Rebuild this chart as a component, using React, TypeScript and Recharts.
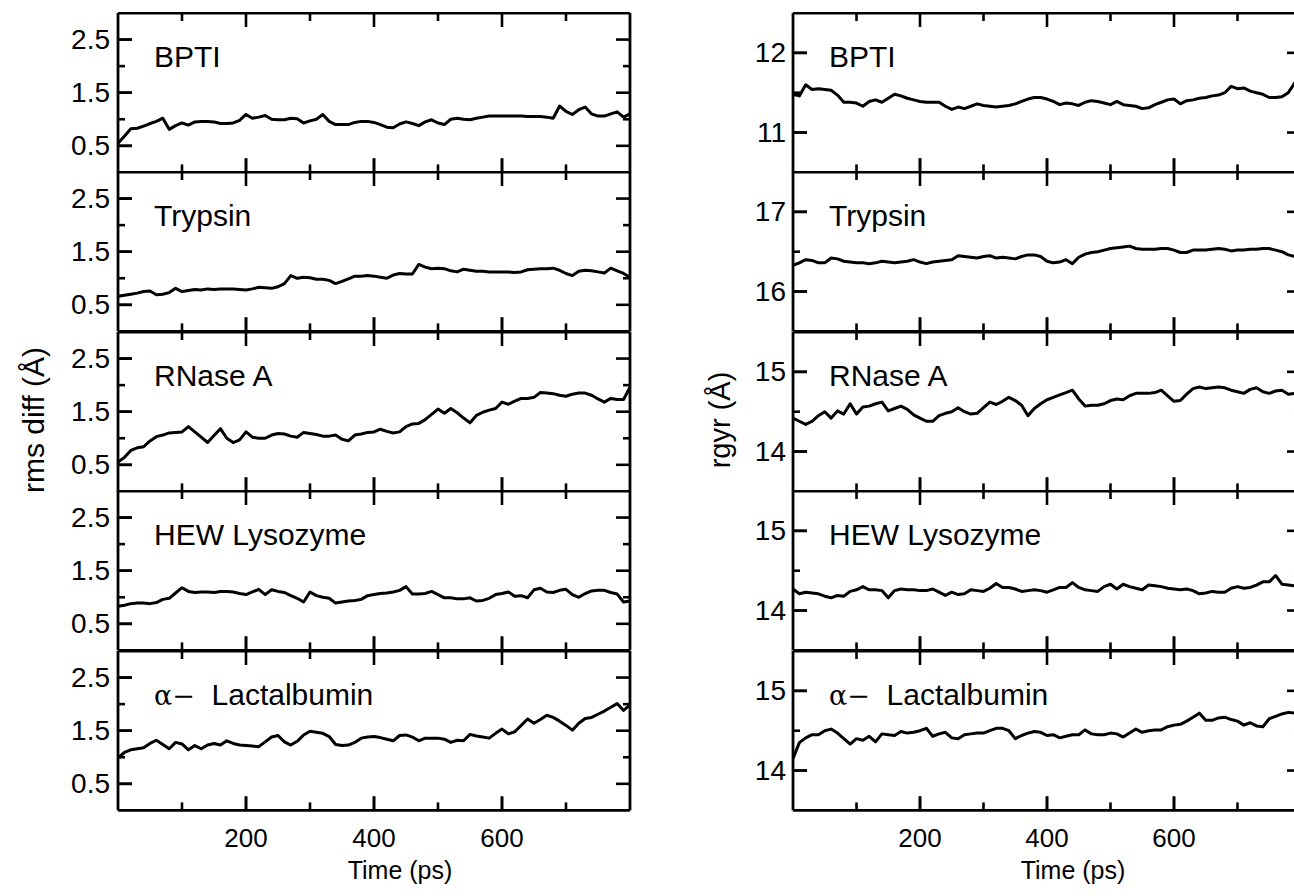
import { Line, LineChart, ReferenceLine, XAxis, YAxis } from 'recharts'

const FONT = '"Liberation Sans", Arial, Helvetica, sans-serif'
const INK = '#000'

// time axis (ps), one sample every 10 ps
const time = [
  0, 10, 20, 30, 40, 50, 60, 70, 80, 90, 100, 110, 120, 130, 140, 150, 160, 170, 180, 190,
  200, 210, 220, 230, 240, 250, 260, 270, 280, 290, 300, 310, 320, 330, 340, 350, 360, 370, 380, 390,
  400, 410, 420, 430, 440, 450, 460, 470, 480, 490, 500, 510, 520, 530, 540, 550, 560, 570, 580, 590,
  600, 610, 620, 630, 640, 650, 660, 670, 680, 690, 700, 710, 720, 730, 740, 750, 760, 770, 780, 790,
  800,
]

// rms diff (Å)
const rmsBpti = [
  0.55, 0.68, 0.82, 0.83, 0.87, 0.92, 0.96, 1.02, 0.81, 0.88, 0.93, 0.89, 0.95, 0.96, 0.96, 0.95, 0.92, 0.92, 0.93, 0.98,
  1.09, 1.02, 1.04, 1.07, 1.0, 0.99, 0.99, 1.02, 1.01, 0.93, 0.97, 1.0, 1.09, 0.96, 0.9, 0.9, 0.9, 0.94, 0.96, 0.96,
  0.94, 0.9, 0.85, 0.84, 0.91, 0.95, 0.92, 0.88, 0.95, 0.99, 0.93, 0.9, 1.0, 1.02, 1.0, 0.99, 1.02, 1.04, 1.06, 1.06,
  1.06, 1.06, 1.06, 1.06, 1.05, 1.05, 1.05, 1.04, 1.02, 1.25, 1.15, 1.09, 1.18, 1.23, 1.1, 1.06, 1.06, 1.1, 1.14, 1.04,
  1.1,
]
const rmsTrypsin = [
  0.66, 0.68, 0.7, 0.72, 0.75, 0.76, 0.69, 0.7, 0.73, 0.81, 0.75, 0.77, 0.79, 0.78, 0.8, 0.79, 0.8, 0.8, 0.8, 0.79,
  0.78, 0.8, 0.83, 0.82, 0.81, 0.84, 0.9, 1.05, 1.0, 1.02, 1.01, 0.98, 0.98, 0.96, 0.9, 0.94, 0.99, 1.04, 1.04, 1.05,
  1.04, 1.02, 1.0, 1.06, 1.09, 1.08, 1.08, 1.26, 1.21, 1.18, 1.19, 1.18, 1.14, 1.12, 1.17, 1.15, 1.13, 1.13, 1.12, 1.12,
  1.12, 1.12, 1.11, 1.12, 1.16, 1.17, 1.18, 1.18, 1.19, 1.15, 1.09, 1.05, 1.13, 1.15, 1.14, 1.12, 1.1, 1.19, 1.14, 1.09,
  1.02,
]
const rmsRnase = [
  0.55, 0.64, 0.77, 0.82, 0.84, 0.95, 1.03, 1.06, 1.1, 1.11, 1.12, 1.22, 1.12, 1.02, 0.92, 1.05, 1.18, 1.0, 0.92, 0.97,
  1.12, 1.02, 1.0, 1.0, 1.06, 1.09, 1.08, 1.04, 1.02, 1.11, 1.09, 1.07, 1.04, 1.04, 1.06, 0.98, 0.95, 1.06, 1.08, 1.11,
  1.12, 1.17, 1.13, 1.1, 1.12, 1.22, 1.27, 1.28, 1.35, 1.45, 1.55, 1.47, 1.56, 1.48, 1.38, 1.29, 1.43, 1.49, 1.53, 1.56,
  1.68, 1.64, 1.7, 1.75, 1.75, 1.77, 1.86, 1.85, 1.84, 1.81, 1.79, 1.83, 1.85, 1.85, 1.81, 1.74, 1.68, 1.75, 1.73, 1.73,
  1.96,
]
const rmsLysozyme = [
  0.83, 0.85, 0.88, 0.89, 0.89, 0.88, 0.9, 0.96, 0.98, 1.08, 1.18, 1.11, 1.09, 1.1, 1.1, 1.09, 1.11, 1.11, 1.1, 1.07,
  1.05, 1.1, 1.15, 1.05, 1.14, 1.11, 1.09, 1.03, 0.98, 0.91, 1.1, 1.03, 1.0, 0.98, 0.89, 0.91, 0.93, 0.94, 0.96, 1.03,
  1.05, 1.07, 1.08, 1.1, 1.13, 1.2, 1.06, 1.06, 1.07, 1.11, 1.05, 0.99, 0.99, 0.97, 0.97, 0.99, 0.93, 0.94, 0.98, 1.05,
  1.07, 1.1, 1.02, 1.03, 0.99, 1.14, 1.17, 1.1, 1.09, 1.13, 1.15, 1.05, 1.0, 1.07, 1.12, 1.13, 1.13, 1.09, 1.06, 0.91,
  0.93,
]
const rmsLactalbumin = [
  0.99, 1.09, 1.14, 1.16, 1.18, 1.26, 1.32, 1.24, 1.16, 1.28, 1.25, 1.14, 1.22, 1.16, 1.23, 1.26, 1.23, 1.31, 1.26, 1.23,
  1.22, 1.21, 1.2, 1.29, 1.38, 1.41, 1.29, 1.23, 1.3, 1.42, 1.49, 1.47, 1.45, 1.39, 1.24, 1.22, 1.23, 1.28, 1.36, 1.38,
  1.39, 1.37, 1.34, 1.31, 1.41, 1.42, 1.38, 1.31, 1.36, 1.36, 1.36, 1.34, 1.28, 1.32, 1.31, 1.43, 1.4, 1.38, 1.36, 1.45,
  1.53, 1.44, 1.48, 1.6, 1.72, 1.64, 1.71, 1.79, 1.75, 1.68, 1.6, 1.51, 1.64, 1.73, 1.75, 1.81, 1.87, 1.94, 2.01, 1.88,
  1.99,
]

// radius of gyration (Å)
const rgyrBpti = [
  11.48, 11.46, 11.6, 11.54, 11.55, 11.54, 11.53, 11.47, 11.38, 11.38, 11.37, 11.33, 11.39, 11.41, 11.38, 11.43, 11.48, 11.46, 11.43, 11.41,
  11.39, 11.38, 11.38, 11.38, 11.33, 11.29, 11.32, 11.3, 11.33, 11.36, 11.34, 11.33, 11.32, 11.33, 11.34, 11.36, 11.39, 11.42, 11.44, 11.44,
  11.42, 11.39, 11.35, 11.37, 11.36, 11.34, 11.38, 11.4, 11.39, 11.37, 11.35, 11.39, 11.35, 11.34, 11.33, 11.3, 11.31, 11.35, 11.38, 11.41,
  11.42, 11.36, 11.4, 11.41, 11.43, 11.44, 11.46, 11.47, 11.5, 11.58, 11.55, 11.56, 11.52, 11.5, 11.48, 11.44, 11.44, 11.45, 11.5, 11.62,
  11.66,
]
const rgyrTrypsin = [
  16.33, 16.36, 16.4, 16.39, 16.36, 16.36, 16.42, 16.41, 16.38, 16.37, 16.36, 16.36, 16.35, 16.36, 16.38, 16.37, 16.36, 16.37, 16.38, 16.4,
  16.37, 16.35, 16.37, 16.38, 16.39, 16.4, 16.45, 16.44, 16.43, 16.42, 16.44, 16.45, 16.42, 16.43, 16.42, 16.41, 16.44, 16.46, 16.46, 16.44,
  16.38, 16.36, 16.37, 16.4, 16.35, 16.43, 16.47, 16.49, 16.5, 16.52, 16.54, 16.55, 16.56, 16.57, 16.54, 16.53, 16.53, 16.53, 16.54, 16.54,
  16.52, 16.49, 16.49, 16.52, 16.52, 16.52, 16.53, 16.54, 16.53, 16.51, 16.52, 16.52, 16.53, 16.53, 16.54, 16.54, 16.52, 16.5, 16.46, 16.44,
  16.45,
]
const rgyrRnase = [
  14.42, 14.38, 14.34, 14.38, 14.45, 14.5, 14.42, 14.51, 14.47, 14.6, 14.47, 14.56, 14.57, 14.6, 14.62, 14.51, 14.54, 14.57, 14.53, 14.46,
  14.42, 14.38, 14.38, 14.45, 14.48, 14.5, 14.55, 14.5, 14.47, 14.48, 14.55, 14.62, 14.59, 14.63, 14.68, 14.64, 14.58, 14.45, 14.54, 14.6,
  14.65, 14.68, 14.71, 14.74, 14.77, 14.66, 14.57, 14.58, 14.58, 14.6, 14.64, 14.66, 14.65, 14.7, 14.73, 14.73, 14.73, 14.74, 14.77, 14.7,
  14.63, 14.64, 14.72, 14.79, 14.81, 14.79, 14.8, 14.81, 14.8, 14.77, 14.75, 14.73, 14.78, 14.8, 14.75, 14.73, 14.76, 14.77, 14.72, 14.73,
  14.74,
]
const rgyrLysozyme = [
  14.27, 14.21, 14.23, 14.22, 14.21, 14.18, 14.16, 14.19, 14.18, 14.24, 14.26, 14.3, 14.26, 14.26, 14.25, 14.16, 14.25, 14.27, 14.26, 14.26,
  14.25, 14.25, 14.27, 14.23, 14.19, 14.23, 14.2, 14.21, 14.26, 14.25, 14.24, 14.28, 14.34, 14.29, 14.29, 14.27, 14.24, 14.25, 14.26, 14.25,
  14.23, 14.26, 14.29, 14.29, 14.35, 14.29, 14.26, 14.25, 14.24, 14.3, 14.33, 14.27, 14.33, 14.3, 14.28, 14.26, 14.32, 14.31, 14.3, 14.28,
  14.27, 14.26, 14.27, 14.25, 14.21, 14.22, 14.24, 14.23, 14.23, 14.28, 14.3, 14.28, 14.29, 14.32, 14.36, 14.36, 14.44, 14.33, 14.32, 14.31,
  14.3,
]
const rgyrLactalbumin = [
  14.15, 14.35, 14.41, 14.45, 14.45, 14.5, 14.52, 14.47, 14.4, 14.33, 14.4, 14.38, 14.43, 14.36, 14.46, 14.45, 14.44, 14.49, 14.47, 14.48,
  14.5, 14.53, 14.43, 14.46, 14.48, 14.41, 14.4, 14.45, 14.46, 14.47, 14.47, 14.5, 14.53, 14.53, 14.5, 14.4, 14.44, 14.47, 14.49, 14.48,
  14.44, 14.45, 14.41, 14.43, 14.45, 14.45, 14.51, 14.46, 14.45, 14.45, 14.47, 14.46, 14.42, 14.47, 14.52, 14.48, 14.5, 14.51, 14.51, 14.55,
  14.57, 14.58, 14.62, 14.67, 14.72, 14.63, 14.63, 14.66, 14.67, 14.64, 14.62, 14.57, 14.6, 14.56, 14.55, 14.65, 14.68, 14.71, 14.73, 14.72,
  14.74,
]

const proteinNames = ['BPTI', 'Trypsin', 'RNase A', 'HEW Lysozyme', 'α−  Lactalbumin']

const timeDomain: [number, number] = [0, 800]
const timeMajorTicks = [200, 400, 600]
const timeMinorTicks = [100, 300, 500, 700]

const rmsDomain: [number, number] = [0, 3]
const rmsMajorTicks = [0.5, 1.5, 2.5]
const rmsMinorTicks = [1, 2]

const rgyrDomains: [number, number][] = [
  [10.5, 12.5],
  [15.5, 17.5],
  [13.5, 15.5],
  [13.5, 15.5],
  [13.5, 15.5],
]
const rgyrMajorTicks = [
  [11, 12],
  [16, 17],
  [14, 15],
  [14, 15],
  [14, 15],
]
const rgyrMinorTicks = [[11.5], [16.5], [14.5], [14.5], [14.5]]

const rmsSeries = [rmsBpti, rmsTrypsin, rmsRnase, rmsLysozyme, rmsLactalbumin]
const rgyrSeries = [rgyrBpti, rgyrTrypsin, rgyrRnase, rgyrLysozyme, rgyrLactalbumin]

const TOP = 13
const PANEL_H = 159.4
const GUT_L = 70
const GUT_R = 10
const TIME_H = 60
const LINE_W = 3
const FRAME_W = 2.8
const TICK_W = 2.6
const MAJOR_LEN = 14
const MINOR_Y_LEN = 7
const MINOR_X_LEN = 8

type PanelProps = {
  values: number[]
  domain: [number, number]
  majorTicks: number[]
  minorTicks: number[]
  name: string
  plotX: number
  plotW: number
  top: number
  labelGap: number
  showTime: boolean
}

function PanelName({ name }: { name: string }) {
  if (name.startsWith('α')) {
    return (
      <>
        <span style={{ fontFamily: '"DejaVu Serif", "Liberation Serif", serif', fontSize: 27 }}>{name.slice(0, 2)}</span>
        {name.slice(2)}
      </>
    )
  }
  return <>{name}</>
}

function Panel(p: PanelProps) {
  const data = time.map((t, i) => ({ t, v: p.values[i] }))
  const bottomH = p.showTime ? TIME_H : 1
  const plotLeft = GUT_L
  const plotBottom = 1 + PANEL_H
  const [yMin, yMax] = p.domain
  const [tMin, tMax] = timeDomain
  // tick lengths in data units, drawn through the chart scales
  const dxOf = (px: number) => (px * (tMax - tMin)) / p.plotW
  const dyOf = (px: number) => (px * (yMax - yMin)) / PANEL_H

  const yLabel = (props: any) => {
    const { payload } = props
    const y = payload.coordinate ?? props.y
    return (
      <text x={plotLeft - p.labelGap} y={y} textAnchor="end" dominantBaseline="central" fontFamily={FONT} fontSize={28} fill={INK}>
        {String(payload.value)}
      </text>
    )
  }

  const xLabel = (props: any) => {
    const { payload } = props
    const x = payload.coordinate ?? props.x
    if (!p.showTime) return <g />
    return (
      <text x={x} y={plotBottom + 28} textAnchor="middle" dominantBaseline="central" fontFamily={FONT} fontSize={26} fill={INK}>
        {String(payload.value)}
      </text>
    )
  }

  const axisLine = { stroke: INK, strokeWidth: FRAME_W }
  const tickLine = { stroke: INK, strokeWidth: TICK_W }
  const ink = { stroke: INK, strokeWidth: TICK_W, ifOverflow: 'visible' as const }

  const yTicks = [...p.majorTicks, ...p.minorTicks]
  const yLen = (v: number) => dxOf(p.majorTicks.includes(v) ? MAJOR_LEN : MINOR_Y_LEN)
  const tTicks = [...timeMajorTicks, ...timeMinorTicks]
  const tLen = (t: number) => dyOf(timeMajorTicks.includes(t) ? MAJOR_LEN : MINOR_X_LEN)

  const marks = [
    // left edge, on both value axes
    ...yTicks.map((v) => (
      <ReferenceLine key={`yl-${v}`} {...ink} xAxisId="b" yAxisId="l" segment={[{ x: tMin, y: v }, { x: tMin + yLen(v), y: v }]} />
    )),
    ...yTicks.map((v) => (
      <ReferenceLine key={`yl2-${v}`} {...ink} xAxisId="t" yAxisId="r" segment={[{ x: tMin, y: v }, { x: tMin + yLen(v), y: v }]} />
    )),
    // right edge
    ...yTicks.map((v) => (
      <ReferenceLine key={`yr-${v}`} {...ink} xAxisId="b" yAxisId="l" segment={[{ x: tMax - yLen(v), y: v }, { x: tMax, y: v }]} />
    )),
    // bottom edge
    ...tTicks.map((t) => (
      <ReferenceLine key={`xb-${t}`} {...ink} xAxisId="b" yAxisId="l" segment={[{ x: t, y: yMin }, { x: t, y: yMin + tLen(t) }]} />
    )),
    // top edge: plain, reversed value axis, and top time axis
    ...tTicks.map((t) => (
      <ReferenceLine key={`xt-${t}`} {...ink} xAxisId="b" yAxisId="l" segment={[{ x: t, y: yMax }, { x: t, y: yMax - tLen(t) }]} />
    )),
    ...tTicks.map((t) => (
      <ReferenceLine key={`xt2-${t}`} {...ink} xAxisId="b" yAxisId="ry" segment={[{ x: t, y: yMin }, { x: t, y: yMin + tLen(t) }]} />
    )),
    ...tTicks.map((t) => (
      <ReferenceLine key={`xt3-${t}`} {...ink} xAxisId="t" yAxisId="r" segment={[{ x: t, y: yMax - tLen(t) }, { x: t, y: yMax }]} />
    )),
  ]

  return (
    <div style={{ position: 'absolute', left: p.plotX - GUT_L, top: p.top - 1 }}>
      <LineChart width={GUT_L + p.plotW + GUT_R} height={PANEL_H + 1 + bottomH} data={data} margin={{ top: 0, right: 0, bottom: 0, left: 0 }}>
        <XAxis xAxisId="b" dataKey="t" type="number" domain={timeDomain} ticks={timeMajorTicks} interval={0} height={bottomH}
          tickSize={-MAJOR_LEN} tickMargin={0} tickLine={tickLine} axisLine={axisLine} tick={xLabel} />
        <XAxis xAxisId="t" orientation="top" dataKey="t" type="number" domain={timeDomain} ticks={timeMajorTicks} interval={0} height={1}
          tickSize={-MAJOR_LEN} tickMargin={0} tickLine={tickLine} axisLine={axisLine} tick={false} />
        <YAxis yAxisId="l" type="number" domain={p.domain} ticks={p.majorTicks} interval={0} width={GUT_L}
          tickSize={-MAJOR_LEN} tickMargin={0} tickLine={tickLine} axisLine={axisLine} tick={yLabel} />
        <YAxis yAxisId="r" orientation="right" type="number" domain={p.domain} ticks={p.majorTicks} interval={0} width={GUT_R}
          tickSize={0} tickLine={false} axisLine={axisLine} tick={false} />
        <YAxis yAxisId="ry" type="number" domain={p.domain} reversed hide />
        {marks}
        <Line xAxisId="b" yAxisId="l" type="linear" dataKey="v" stroke={INK} strokeWidth={LINE_W} strokeLinejoin="round" dot={false} isAnimationActive={false} />
      </LineChart>
      <div style={{ position: 'absolute', left: GUT_L + 36, top: 30, fontFamily: FONT, fontSize: 30, lineHeight: '30px', whiteSpace: 'pre', color: INK }}>
        <PanelName name={p.name} />
      </div>
    </div>
  )
}

const textStyle = {
  position: 'absolute' as const,
  fontFamily: FONT,
  color: INK,
  whiteSpace: 'nowrap' as const,
  transform: 'translate(-50%, -50%)',
}

export default function App() {
  const leftX = 118
  const leftW = 512
  const rightX = 793
  const rightW = 508

  return (
    <div style={{ position: 'fixed', left: 0, top: 0, width: 1294, height: 896, overflow: 'hidden', background: '#fff' }}>
      {proteinNames.map((name, i) => (
        <Panel key={`rms-${name}`} values={rmsSeries[i]} domain={rmsDomain} majorTicks={rmsMajorTicks} minorTicks={rmsMinorTicks}
          name={name} plotX={leftX} plotW={leftW} top={TOP + i * PANEL_H} labelGap={8} showTime={i === proteinNames.length - 1} />
      ))}
      {proteinNames.map((name, i) => (
        <Panel key={`rgyr-${name}`} values={rgyrSeries[i]} domain={rgyrDomains[i]} majorTicks={rgyrMajorTicks[i]} minorTicks={rgyrMinorTicks[i]}
          name={name} plotX={rightX} plotW={rightW} top={TOP + i * PANEL_H} labelGap={7} showTime={i === proteinNames.length - 1} />
      ))}
      <div style={{ ...textStyle, left: 34, top: 420, fontSize: 30, transform: 'translate(-50%, -50%) rotate(-90deg)' }}>rms diff (Å)</div>
      <div style={{ ...textStyle, left: 720, top: 420, fontSize: 29, transform: 'translate(-50%, -50%) rotate(-90deg)' }}>rgyr (Å)</div>
      <div style={{ ...textStyle, left: leftX + 282, top: 870, fontSize: 25 }}>Time (ps)</div>
      <div style={{ ...textStyle, left: rightX + 280, top: 870, fontSize: 25 }}>Time (ps)</div>
    </div>
  )
}
